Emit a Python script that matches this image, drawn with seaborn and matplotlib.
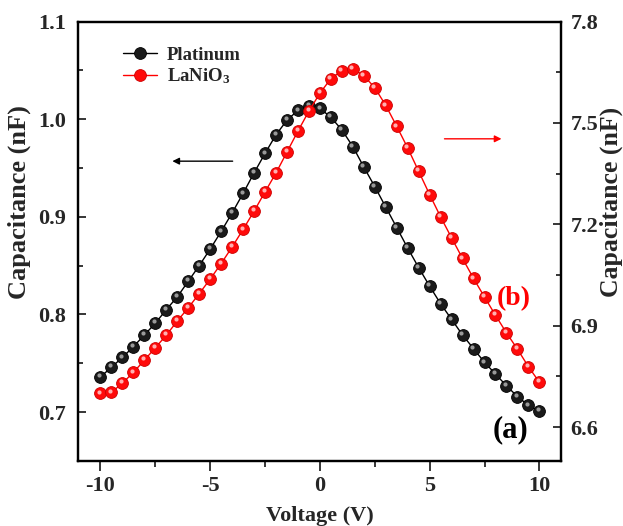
import numpy as np
import pandas as pd
import seaborn as sns
import matplotlib
matplotlib.use("Agg")
import matplotlib.pyplot as plt
import matplotlib.transforms as mtransforms
from matplotlib.ticker import MultipleLocator

# ---- data ----
voltage = [-10, -9.5, -9, -8.5, -8, -7.5, -7, -6.5, -6, -5.5, -5, -4.5, -4, -3.5, -3, -2.5,
           -2, -1.5, -1, -0.5, 0, 0.5, 1, 1.5, 2, 2.5, 3, 3.5, 4, 4.5, 5, 5.5, 6, 6.5, 7,
           7.5, 8, 8.5, 9, 9.5, 10]
platinum = [0.736, 0.746, 0.756, 0.767, 0.779, 0.791, 0.805, 0.818, 0.834, 0.850, 0.867,
            0.885, 0.904, 0.924, 0.945, 0.965, 0.984, 0.999, 1.009, 1.014, 1.011, 1.002,
            0.989, 0.972, 0.951, 0.931, 0.910, 0.889, 0.868, 0.848, 0.829, 0.811, 0.795,
            0.779, 0.765, 0.751, 0.739, 0.727, 0.716, 0.707, 0.701]
lanio3 = [6.700, 6.703, 6.730, 6.762, 6.798, 6.835, 6.872, 6.914, 6.953, 6.995, 7.038,
          7.084, 7.133, 7.185, 7.239, 7.296, 7.352, 7.414, 7.476, 7.535, 7.588, 7.631,
          7.655, 7.660, 7.640, 7.604, 7.552, 7.490, 7.426, 7.357, 7.288, 7.222, 7.160,
          7.099, 7.040, 6.985, 6.931, 6.879, 6.831, 6.779, 6.733]
x_ticks = [-10, -5, 0, 5, 10]
left_ticks = [0.7, 0.8, 0.9, 1.0, 1.1]
right_ticks = [6.6, 6.9, 7.2, 7.5, 7.8]

df_pt = pd.DataFrame({"Voltage": voltage, "C": platinum})
df_ln = pd.DataFrame({"Voltage": voltage, "C": lanio3})

sns.set_style("ticks")
plt.rcParams["font.family"] = ["Liberation Serif", "DejaVu Serif"]
plt.rcParams["font.weight"] = "bold"
plt.rcParams["mathtext.fontset"] = "custom"
plt.rcParams["mathtext.rm"] = "Liberation Serif:bold"
plt.rcParams["mathtext.default"] = "rm"

fig = plt.figure(figsize=(6.23, 5.26), dpi=100)
ax = fig.add_axes([0.126, 0.1236, 0.775, 0.8355])
ax2 = ax.twinx()

ms = 8.5
sns.lineplot(data=df_pt, x="Voltage", y="C", ax=ax, color="black", lw=1.0,
             marker="o", markersize=ms, markeredgecolor="#000000",
             markerfacecolor="#1a1a1a", markeredgewidth=0.6, label="Platinum", legend=False)
sns.lineplot(data=df_ln, x="Voltage", y="C", ax=ax2, color="red", lw=1.0,
             marker="o", markersize=ms, markeredgecolor="#cc0000",
             markerfacecolor="#ff0a0a", markeredgewidth=0.6, label="LaNiO$_3$", legend=False)

# sphere highlights
off1 = mtransforms.offset_copy(ax.transData, fig=fig, x=-1.0, y=1.3, units="points")
off2 = mtransforms.offset_copy(ax2.transData, fig=fig, x=-1.0, y=1.3, units="points")
ax.plot(voltage, platinum, "o", ms=3.0, color="#9a9a9a", mec="none", transform=off1)
ax2.plot(voltage, lanio3, "o", ms=3.0, color="#ffb0b0", mec="none", transform=off2)

ax.set_xlim(-11, 11)
ax.set_ylim(0.65, 1.1)
ax2.set_ylim(6.5, 7.8)

ax.set_xticks(x_ticks)
ax.set_xticklabels([str(t) for t in x_ticks])
ax.set_yticks(left_ticks)
ax.set_yticklabels([f"{t:.1f}" for t in left_ticks])
ax2.set_yticks(right_ticks)
ax2.set_yticklabels([f"{t:.1f}" for t in right_ticks])
ax.xaxis.set_minor_locator(MultipleLocator(2.5))
ax.yaxis.set_minor_locator(MultipleLocator(0.05))
ax2.yaxis.set_minor_locator(MultipleLocator(0.15))

fs_tick = 16
ax.tick_params(axis="x", which="major", direction="out", length=7, width=1.3,
               labelsize=fs_tick, pad=4)
ax.tick_params(axis="x", which="minor", direction="out", length=4, width=1.3)
ax.tick_params(axis="y", which="major", direction="in", length=6, width=1.3,
               labelsize=fs_tick, pad=9)
ax.tick_params(axis="y", which="minor", direction="in", length=3.5, width=1.3)
ax2.tick_params(axis="y", which="major", direction="in", length=6, width=1.3,
                labelsize=fs_tick, pad=6.5)
ax2.tick_params(axis="y", which="minor", direction="in", length=3.5, width=1.3)
for a in (ax, ax2):
    for s in a.spines.values():
        s.set_linewidth(1.6)
        s.set_color("black")
    for lab in a.get_xticklabels() + a.get_yticklabels():
        lab.set_fontweight("bold")

ax.set_xlabel("Voltage (V)", fontsize=16, fontweight="bold")
ax.xaxis.set_label_coords(0.5, -0.103)
ax.set_ylabel("Capacitance (nF)", fontsize=19, fontweight="bold")
ax.yaxis.set_label_coords(-0.098, 0.59)
ax2.set_ylabel("Capacitance (nF)", fontsize=18.5, fontweight="bold")
ax2.yaxis.set_label_coords(1.08, 0.59)

# arrows and labels
ax.annotate("", xy=(-6.85, 0.957), xytext=(-3.85, 0.957),
            arrowprops=dict(arrowstyle="-|>", color="black", lw=1.0,
                            mutation_scale=10))
ax2.annotate("", xy=(8.4, 7.453), xytext=(5.55, 7.453),
             arrowprops=dict(arrowstyle="-|>", color="red", lw=1.0,
                             mutation_scale=10))
ax.text(8.7, 0.682, "(a)", fontsize=22, fontweight="bold", color="black",
        ha="center", va="center")
ax2.text(8.85, 6.98, "(b)", fontsize=20, fontweight="bold", color="red",
         ha="center", va="center")

# legend
h1 = ax.get_lines()[0]
h2 = ax2.get_lines()[0]
leg = ax.legend([h1, h2], ["Platinum", "LaNiO$_3$"], loc="upper left",
                bbox_to_anchor=(0.058, 0.981), frameon=False,
                prop={"weight": "bold", "size": 13.5}, handlelength=1.8,
                handletextpad=0.5, labelspacing=0.15)

fig.savefig("out.png", dpi=100)
